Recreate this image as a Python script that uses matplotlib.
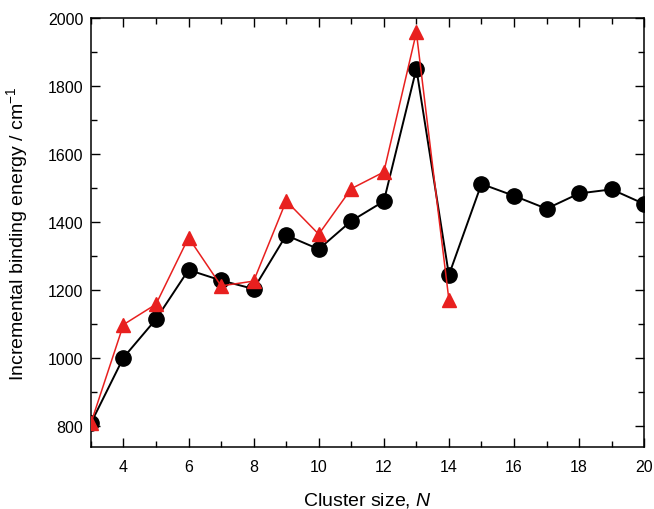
import numpy as np
import matplotlib
matplotlib.use('Agg')
from matplotlib import pyplot as plt
from matplotlib.ticker import MultipleLocator

plt.rcParams['font.family'] = ['Liberation Sans', 'DejaVu Sans']
plt.rcParams['mathtext.fontset'] = 'custom'
plt.rcParams['mathtext.rm'] = 'Liberation Sans'
plt.rcParams['mathtext.it'] = 'Liberation Sans:italic'

# data
n_black = [3, 4, 5, 6, 7, 8, 9, 10, 11, 12, 13, 14, 15, 16, 17, 18, 19, 20]
e_black = [808, 1001, 1114, 1259, 1228, 1203, 1361, 1320, 1403, 1461, 1851, 1244,
           1512, 1477, 1439, 1484, 1496, 1453]
n_red = [3, 4, 5, 6, 7, 8, 9, 10, 11, 12, 13, 14]
e_red = [808, 1098, 1158, 1354, 1212, 1226, 1462, 1364, 1498, 1547, 1958, 1171]

fig = plt.figure(figsize=(6.54, 5.10), dpi=100)
ax = fig.add_axes([0.139, 0.1216, 0.846, 0.841])

ax.plot(n_black, e_black, '-o', color='black', lw=1.4, ms=11, zorder=2)
ax.plot(n_red, e_red, '-^', color='#e8201f', lw=1.1, ms=10, zorder=3)

ax.set_xlim(3, 20)
ax.set_ylim(738, 2000)
ax.xaxis.set_minor_locator(MultipleLocator(1))
ax.yaxis.set_major_locator(MultipleLocator(200))
ax.yaxis.set_minor_locator(MultipleLocator(100))
ax.set_xticks(np.arange(4, 21, 2))
ax.tick_params(which='major', direction='in', top=True, right=True,
               length=6.5, width=1, labelsize=11.5)
ax.tick_params(which='minor', direction='in', top=True, right=True,
               length=4, width=1)
ax.tick_params(axis='x', pad=9)
ax.tick_params(axis='y', pad=5.5)
for s in ax.spines.values():
    s.set_linewidth(1.1)

ax.set_xlabel('Cluster size, $\\mathit{N}$', fontsize=14, labelpad=11)
ax.set_ylabel('Incremental binding energy / cm$^{-1}$', fontsize=14, labelpad=13)

fig.savefig('out.png', dpi=100)
